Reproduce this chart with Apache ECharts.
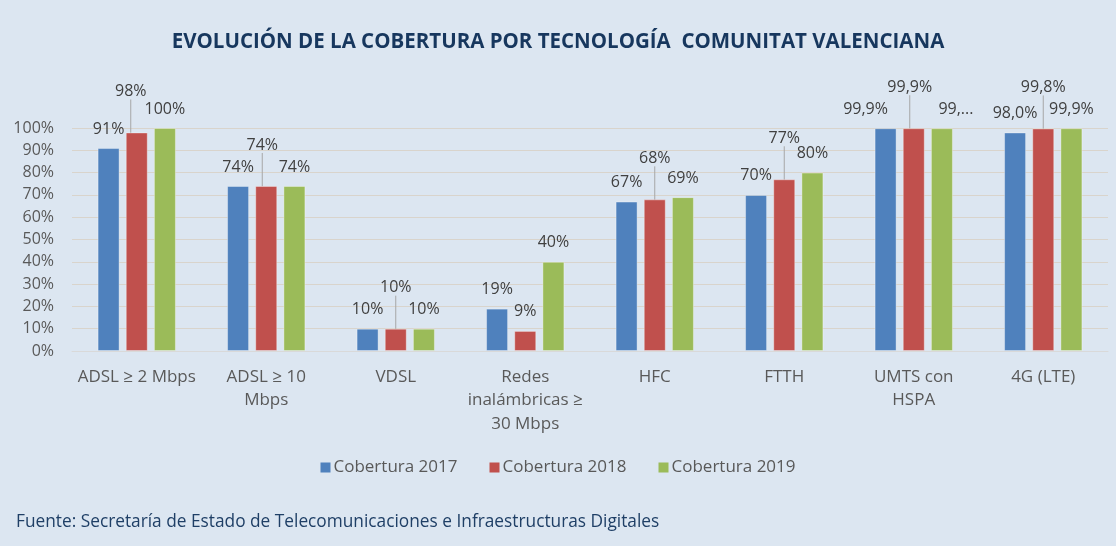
<!DOCTYPE html>
<html>
<head>
<meta charset="utf-8">
<script src="https://cdn.jsdelivr.net/npm/echarts@6/dist/echarts.min.js"></script>
<style>
  html, body { margin: 0; padding: 0; background: #dce6f1; }
  #chart { width: 1116px; height: 546px; }
</style>
</head>
<body>
<div id="chart"></div>
<script>
// categorías y valores (%)
const categories = ['ADSL ≥ 2 Mbps', 'ADSL ≥ 10\nMbps', 'VDSL', 'Redes\ninalámbricas ≥\n30 Mbps', 'HFC', 'FTTH', 'UMTS con\nHSPA', '4G (LTE)']
const seriesNames = ['Cobertura 2017', 'Cobertura 2018', 'Cobertura 2019']
const cob2017 = [91, 74, 10, 19, 67, 70, 99.9, 98.0]
const cob2018 = [98, 74, 10, 9, 68, 77, 99.9, 99.8]
const cob2019 = [100, 74, 10, 40, 69, 80, 99.9, 99.9]
const decimals = [0, 0, 0, 0, 0, 0, 1, 1]
const yTicks = [0, 10, 20, 30, 40, 50, 60, 70, 80, 90, 100]

const colors = ['#4f81bd', '#c0504d', '#9bbb59']
const font = '"Open Sans", "Noto Sans", sans-serif'

const fmt = (v, i) => v.toFixed(decimals[i]).replace('.', ',') + '%'

// desplazamientos de etiquetas (como las coloca Excel)
const labelShift = [
  i => ({ dx: i === 6 ? -20 : 0 }),
  i => ({ dx: i === 0 ? -6 : (i === 1 || i === 6 ? -4 : 0), dy: i === 3 ? 0 : -22 }),
  i => ({ dx: i === 6 ? 14 : 0 })
]

const chart = echarts.init(document.getElementById('chart'))

const series = [cob2017, cob2018, cob2019].map((values, s) => ({
  name: seriesNames[s],
  type: 'bar',
  barWidth: 22,
  barGap: '28%',
  data: values.map((v, i) => {
    const item = { value: v }
    // Excel recortó esta etiqueta
    if (s === 2 && i === 6) item.label = { formatter: '99,...' }
    // sin línea guía cuando la etiqueta no se ha movido
    if (s === 1 && i === 3) item.labelLine = { show: false }
    return item
  }),
  itemStyle: { color: colors[s], borderColor: 'rgba(255,255,255,0.35)', borderWidth: 1 },
  label: {
    show: true,
    position: 'top',
    distance: 11,
    fontFamily: font,
    fontSize: 16,
    color: '#404040',
    formatter: p => fmt(p.value, p.dataIndex)
  },
  labelLine: {
    show: s === 1,
    lineStyle: { color: '#a6a6a6', width: 1 }
  },
  labelLayout: p => labelShift[s](p.dataIndex)
}))

const option = {
  backgroundColor: '#dce6f1',
  animation: false,
  title: [
    {
      text: 'EVOLUCIÓN DE LA COBERTURA POR TECNOLOGÍA  COMUNITAT VALENCIANA',
      left: 'center',
      top: 27,
      textStyle: { fontFamily: font, fontSize: 20.5, fontWeight: 'bold', color: '#17375e' }
    },
    {
      text: 'Fuente: Secretaría de Estado de Telecomunicaciones e Infraestructuras Digitales',
      left: 11,
      top: 509,
      textStyle: { fontFamily: font, fontSize: 17.3, fontWeight: 'normal', color: '#1f3f66' }
    }
  ],
  legend: {
    top: 454,
    left: 'center',
    icon: 'rect',
    itemWidth: 10,
    itemHeight: 10,
    itemGap: 32,
    itemStyle: { borderWidth: 0 },
    textStyle: { fontFamily: font, fontSize: 17, color: '#595959', padding: [0, 0, 0, -2] },
    data: seriesNames
  },
  grid: { left: 72, right: 8, top: 128, bottom: 195 },
  xAxis: {
    type: 'category',
    data: categories,
    axisTick: { show: false },
    axisLine: { lineStyle: { color: '#d9d9d9' } },
    axisLabel: {
      interval: 0,
      margin: 14,
      fontFamily: font,
      fontSize: 17,
      lineHeight: 23.5,
      color: '#595959'
    }
  },
  yAxis: {
    type: 'value',
    min: yTicks[0],
    max: yTicks[yTicks.length - 1],
    interval: yTicks[1] - yTicks[0],
    axisLabel: {
      margin: 18,
      fontFamily: font,
      fontSize: 16,
      color: '#595959',
      formatter: '{value}%'
    },
    axisLine: { show: false },
    axisTick: { show: false },
    splitLine: { lineStyle: { color: '#d9d4cc' } }
  },
  series
}

chart.setOption(option)
</script>
</body>
</html>
